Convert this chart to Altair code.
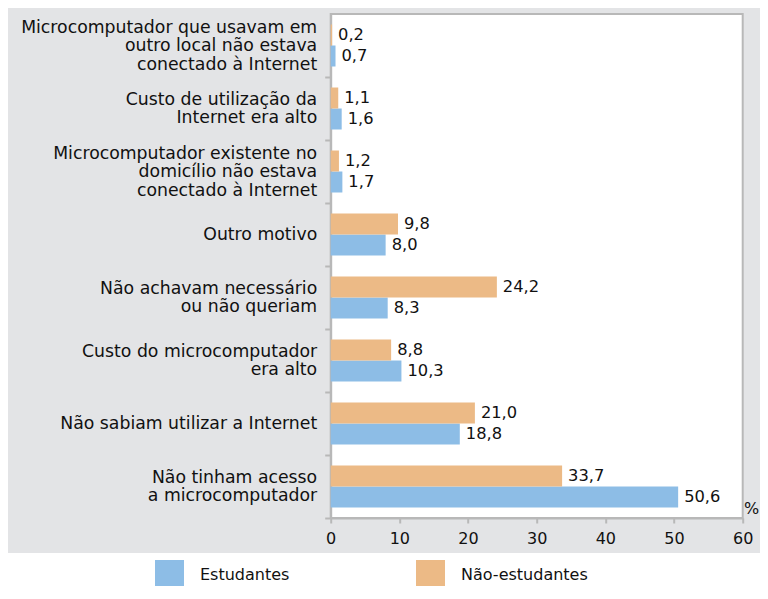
import altair as alt
import pandas as pd

categories = [
    "Microcomputador que usavam em|outro local não estava|conectado à Internet",
    "Custo de utilização da|Internet era alto",
    "Microcomputador existente no|domicílio não estava|conectado à Internet",
    "Outro motivo",
    "Não achavam necessário|ou não queriam",
    "Custo do microcomputador|era alto",
    "Não sabiam utilizar a Internet",
    "Não tinham acesso|a microcomputador",
]
estudantes = [0.7, 1.6, 1.7, 8.0, 8.3, 10.3, 18.8, 50.6]
nao_estudantes = [0.2, 1.1, 1.2, 9.8, 24.2, 8.8, 21.0, 33.7]
series = ["Estudantes", "Não-estudantes"]
colors = ["#8dbde6", "#ecba86"]
x_ticks = [0, 10, 20, 30, 40, 50, 60]

rows = []
for c, e, n in zip(categories, estudantes, nao_estudantes):
    rows.append({"cat": c, "serie": series[0], "v": e})
    rows.append({"cat": c, "serie": series[1], "v": n})
df = pd.DataFrame(rows)

FONT = "DejaVu Sans"
GRID = "#b8b8b8"
LH = 18.5
HALF = 31.5

y_enc = alt.Y(
    "cat:N",
    sort=categories,
    scale=alt.Scale(paddingInner=0.3333, paddingOuter=0.1667),
    axis=alt.Axis(
        title=None,
        labelExpr="split(datum.label, '|')",
        labelFont=FONT,
        labelFontSize=17.3,
        labelColor="#111111",
        labelLineHeight=LH,
        labelLimit=400,
        labelPadding=8,
        tickOffset=HALF,
        labelOffset={
            "condition": [
                {"test": "length(split(datum.value, '|')) == 3", "value": -HALF - LH},
                {"test": "length(split(datum.value, '|')) == 2", "value": -HALF - LH / 2},
            ],
            "value": -HALF,
        },
        tickSize=6,
        tickWidth=2,
        tickColor=GRID,
        domainColor=GRID,
        domainWidth=2,
    ),
)
yoff = alt.YOffset(
    "serie:N", sort=[series[1], series[0]], scale=alt.Scale(paddingInner=0, paddingOuter=0)
)

bars = (
    alt.Chart(df)
    .mark_bar()
    .encode(
        x=alt.X(
            "v:Q",
            scale=alt.Scale(domain=[0, 60], nice=False),
            axis=alt.Axis(
                values=x_ticks,
                title="%",
                titleX=428,
                titleY=-10,
                titleAlign="right",
                titleBaseline="middle",
                titleFont=FONT,
                titleFontSize=16,
                titleFontWeight="normal",
                titleColor="#111111",
                labelFont=FONT,
                labelFontSize=16,
                labelColor="#111111",
                labelPadding=7,
                labelFlush=False,
                tickSize=5,
                tickWidth=2,
                tickColor=GRID,
                domainColor=GRID,
                domainWidth=2,
                grid=False,
            ),
        ),
        y=y_enc,
        yOffset=yoff,
        color=alt.Color(
            "serie:N",
            scale=alt.Scale(domain=series, range=colors),
            legend=alt.Legend(
                title=None,
                orient="none",
                legendX=-175.7,
                legendY=546,
                direction="horizontal",
                symbolType="square",
                symbolSize=841,
                symbolStrokeWidth=0,
                labelFont=FONT,
                labelFontSize=16,
                labelColor="#111111",
                labelOffset=16,
                columnPadding=126,
                padding=0,
            ),
        ),
    )
)

labels = (
    alt.Chart(df)
    .transform_calculate(lbl="replace(format(datum.v, '.1f'), '.', ',')")
    .mark_text(align="left", baseline="middle", dx=6, font=FONT, fontSize=16.3, color="#111111")
    .encode(x="v:Q", y=alt.Y("cat:N", sort=categories), yOffset=yoff, text="lbl:N")
)

white_strip = (
    alt.Chart(alt.Data(values=[{"a": 1}]))
    .mark_rect(color="white")
    .encode(x=alt.value(-323), x2=alt.value(440), y=alt.value(539), y2=alt.value(620))
)

chart = (
    alt.layer(white_strip, bars, labels)
    .properties(
        width=412,
        height=504,
        autosize="none",
        padding={"left": 322.7, "top": 6, "right": 17.3, "bottom": 68},
        background="#e3e4e6",
    )
    .configure_view(fill="white", stroke=GRID, strokeWidth=2)
)

chart.save("out.html", embed_options={"renderer": "svg", "actions": False})
